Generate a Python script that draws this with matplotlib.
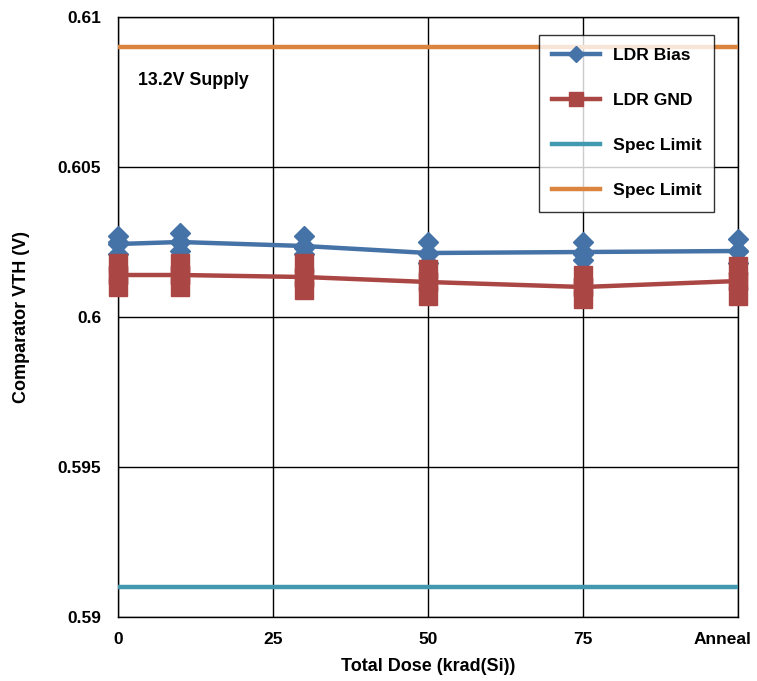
import matplotlib
matplotlib.use("Agg")
import matplotlib.pyplot as plt
import matplotlib.transforms as mtransforms
import numpy as np

plt.rcParams['font.family'] = ['Liberation Sans', 'DejaVu Sans']
plt.rcParams['font.weight'] = 'bold'

# Data
doses = [0, 10, 30, 50, 75, 100]
ldr_bias_units = [
    [0.6027, 0.6025, 0.6021],
    [0.6028, 0.6025, 0.6022],
    [0.6027, 0.6023, 0.6021],
    [0.6025, 0.6021, 0.6018],
    [0.6025, 0.6021, 0.6019],
    [0.6026, 0.6022, 0.6018],
]
ldr_gnd_units = [
    [0.6018, 0.6014, 0.6010],
    [0.6018, 0.6014, 0.6010],
    [0.6018, 0.6013, 0.6009],
    [0.6016, 0.6012, 0.6007],
    [0.6014, 0.6010, 0.6006],
    [0.6017, 0.6012, 0.6007],
]
spec_low = 0.591
spec_high = 0.609
xticks = [0, 25, 50, 75, 100]
xticklabels = ['0', '25', '50', '75', 'Anneal']
yticks = [0.59, 0.595, 0.6, 0.605, 0.61]
yticklabels = ['0.59', '0.595', '0.6', '0.605', '0.61']

c_blue = '#4572A7'
c_red = '#AA4643'
c_teal = '#4198AF'
c_orange = '#DB843D'

fig = plt.figure(figsize=(7.57, 6.81), dpi=100)
ax = fig.add_axes([0.1559, 0.094, 0.819, 0.881])

bias_mean = [np.mean(v) for v in ldr_bias_units]
gnd_mean = [np.mean(v) for v in ldr_gnd_units]

for d, vals in zip(doses, ldr_bias_units):
    ax.plot([d] * len(vals), vals, linestyle='none', marker='D', ms=10.5,
            color=c_blue, mec=c_blue, zorder=4, clip_on=False)
for d, vals in zip(doses, ldr_gnd_units):
    ax.plot([d] * len(vals), vals, linestyle='none', marker='s', ms=12.5,
            color=c_red, mec=c_red, zorder=5, clip_on=False)

ax.plot(doses, bias_mean, color=c_blue, lw=3.2, marker='D', ms=10.5,
        label='LDR Bias', zorder=4, clip_on=False)
ax.plot(doses, gnd_mean, color=c_red, lw=3.2, marker='s', ms=12.5,
        label='LDR GND', zorder=5, clip_on=False)
ax.axhline(spec_low, color=c_teal, lw=3.2, label='Spec Limit', zorder=3)
ax.axhline(spec_high, color=c_orange, lw=3.2, label='Spec Limit', zorder=3)

ax.set_xlim(0, 100)
ax.set_ylim(0.59, 0.61)
ax.set_xticks(xticks)
ax.set_xticklabels(xticklabels)
ax.set_yticks(yticks)
ax.set_yticklabels(yticklabels)
ax.tick_params(axis='both', length=0, labelsize=12.5)
ax.tick_params(axis='x', pad=11)
ax.tick_params(axis='y', pad=12)
ax.grid(True, color='black', lw=1.0)
ax.set_axisbelow(True)
for s in ax.spines.values():
    s.set_color('black')
    s.set_linewidth(1.0)

# shift the 'Anneal' label left like the reference
lab = ax.get_xticklabels()[-1]
lab.set_transform(lab.get_transform() + mtransforms.ScaledTranslation(-15 / 100, 0, fig.dpi_scale_trans))

ax.set_xlabel('Total Dose (krad(Si))', fontsize=13, fontweight='bold', labelpad=8)
ax.set_ylabel('Comparator VTH (V)', fontsize=13, fontweight='bold', labelpad=20)

ax.text(3.2, 0.6079, '13.2V Supply', fontsize=12.8, fontweight='bold',
        va='center', ha='left')

leg = ax.legend(loc='upper right', bbox_to_anchor=(0.962, 0.97), fontsize=12.6,
                frameon=True, fancybox=False, edgecolor='black',
                handlelength=2.75, labelspacing=1.7, borderpad=0.75,
                handletextpad=0.7, borderaxespad=0, markerscale=0.75)
leg.get_frame().set_linewidth(1.0)
leg.set_zorder(10)

fig.savefig('out.png', dpi=100)
